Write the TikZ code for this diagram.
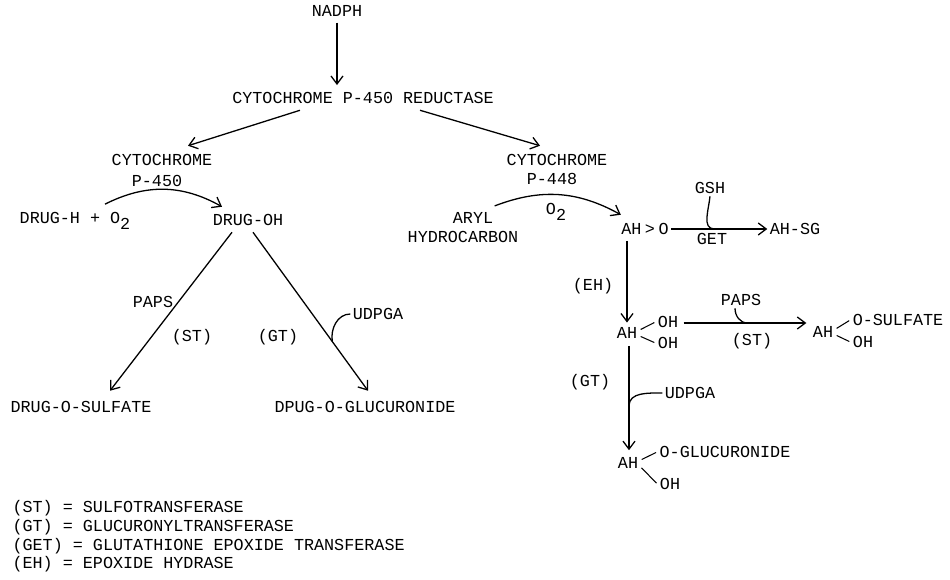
\documentclass[tikz,border=0pt]{standalone}
\usepackage{fontspec}
\setmainfont{Liberation Mono}
\usetikzlibrary{arrows.meta,calc,positioning}

\begin{document}
\begin{tikzpicture}[x=0.03cm,y=-0.03cm,>={Straight Barb[length=2.4mm,width=3.6mm]},
  every node/.style={font=\fontsize{14.3}{16}\selectfont,inner sep=2pt},
  flow/.style={->,line width=1.1pt},
  hook/.style={line width=1.1pt},
  bond/.style={line width=0.9pt,shorten <=1pt,shorten >=1pt}]
  \useasboundingbox (0,0) rectangle (950,579);
  % top
  \node (nadph) at (337,11) {NADPH};
  \node (red) at (363,98) {CYTOCHROME P-450 REDUCTASE};
  \draw[flow,shorten <=3pt,shorten >=4pt] (nadph.south) -- (nadph.south |- red.north);
  % left branch
  \node (cyta) at (162,160) {CYTOCHROME};
  \node (p450) at (157,181) {P-450};
  \node (drugh) at (75,221) {DRUG-H + O\raisebox{-0.6ex}{2}};
  \node (drugoh) at (248,220) {DRUG-OH};
  \draw[flow] ($(red.south)+(-63,4)$) -- ($(cyta.north)+(26,-6)$);
  \draw[flow] ($(drugh.north)+(30,-6)$) to[bend left=28] ($(drugoh.north)+(-26,-5)$);
  \node (sulf) at (81,407) {DRUG-O-SULFATE};
  \node (gluc) at (365,407) {DPUG-O-GLUCURONIDE};
  \coordinate (la) at ($(drugoh.south)+(-16,4)$);
  \coordinate (ra) at ($(drugoh.south)+(5,4)$);
  \draw[flow] (la) -- ($(sulf.north)+(29,-8)$);
  \draw[flow] (ra) -- ($(gluc.north)+(3,-8)$);
  \node (paps) at (153,302) {PAPS};
  \node (st) at (192,337) {(ST)};
  \node (gt) at (278,337) {(GT)};
  \node (udpga) at (378,314) {UDPGA};
  \draw[hook] (udpga.west) to[out=180,in=100] ($(ra)!0.69!($(gluc.north)+(3,-8)$)$);
  % right branch
  \node (cytb) at (557,160) {CYTOCHROME};
  \node (p448) at (552,179) {P-448};
  \draw[flow] ($(red.south)+(57,4)$) -- ($(cytb.north)+(-17,-6)$);
  \node (aryl) at (473,218) {ARYL};
  \node (hydro) at (463,237) {HYDROCARBON};
  \node (otwo) at (556,212) {O\raisebox{-0.6ex}{2}};
  \node (epox) at (645,229) {AH\hspace{3pt}>\hspace{3pt}O};
  \draw[flow] ($(aryl.north east)+(-1,-4)$) to[bend left=25] ($(epox.north west)+(2,-6)$);
  \node (ahsg) at (795,229) {AH-SG};
  \draw[flow] (epox) -- (ahsg);
  \node (gsh) at (710,188) {GSH};
  \node (get) at (712,239) {GET};
  \draw[hook] (gsh.south) to[out=265,in=180] ($(epox.east)!0.45!(ahsg.west)$);
  % epoxide hydrase
  \node (eh) at (593,286) {(EH)};
  \node (ah1) at (627,333) {AH};
  \node (oh1a) at (668,322) {OH};
  \node (oh1b) at (668,343) {OH};
  \draw[bond] ($(ah1.east)+(0,-3)$) -- (oh1a.west);
  \draw[bond] ($(ah1.east)+(0,3)$) -- (oh1b.west);
  \draw[flow,shorten <=3pt,shorten >=2pt] (ah1.center |- epox.south) -- (ah1.north);
  % sulfation
  \node (ah2) at (823,332) {AH};
  \node (osulf) at (898,320) {O-SULFATE};
  \node (oh2) at (863,342) {OH};
  \draw[bond] ($(ah2.east)+(0,-3)$) -- (osulf.west);
  \draw[bond] ($(ah2.east)+(0,3)$) -- (oh2.west);
  \coordinate (sa) at ($(oh1a.east)+(3,1)$);
  \coordinate (sb) at ($(oh1a.east -| ah2.west)+(-4,1)$);
  \draw[flow] (sa) -- (sb);
  \node (paps2) at (741,300) {PAPS};
  \node (st2) at (752,341) {(ST)};
  \draw[hook] ($(paps2.south)+(-6,0)$) to[out=270,in=180] ($(sa)!0.52!(sb)$);
  % glucuronidation
  \node (gt2) at (590,382) {(GT)};
  \node (ah3) at (628,463) {AH};
  \node (oglu) at (725,452) {O-GLUCURONIDE};
  \node (oh3) at (670,484) {OH};
  \draw[bond] ($(ah3.east)+(0,-3)$) -- (oglu.west);
  \draw[bond] ($(ah3.east)+(0,4)$) -- (oh3.west);
  \draw[flow,shorten <=4pt,shorten >=4pt] (ah1.south -| 629,0) -- (ah3.north -| 629,0);
  \node (udpga2) at (690,393) {UDPGA};
  \draw[hook] (udpga2.west) to[out=180,in=90] (629,406);
  % legend
  \node[anchor=west] (lst) at (10,508) {(ST) = SULFOTRANSFERASE};
  \node[anchor=west] (lgt) at (10,527) {(GT) = GLUCURONYLTRANSFERASE};
  \node[anchor=west] (lget) at (10,546) {(GET) = GLUTATHIONE EPOXIDE TRANSFERASE};
  \node[anchor=west] (leh) at (10,564) {(EH) = EPOXIDE HYDRASE};
\end{tikzpicture}
\end{document}
